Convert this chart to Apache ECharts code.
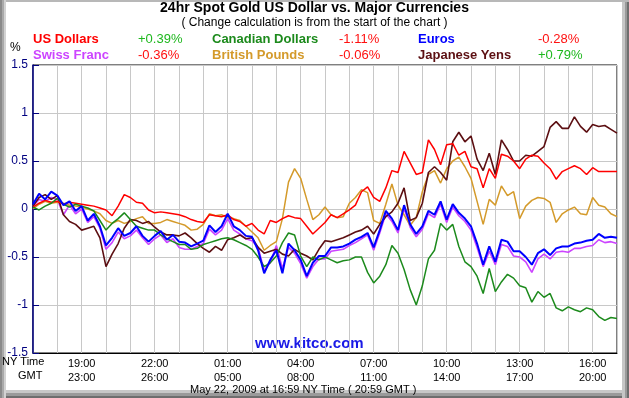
<!DOCTYPE html>
<html>
<head>
<meta charset="utf-8">
<script src="https://cdn.jsdelivr.net/npm/echarts@6/dist/echarts.min.js"></script>
<style>
  html, body { margin: 0; padding: 0; background: #fff; }
  #chart {
    width: 629px; height: 398px; background: #fff;
    box-shadow:
      inset 2px 0 0 #8a8a8a, inset 4px 0 0 #a9a9a9, inset 6px 0 0 #d2d2d2,
      inset 0 2px 0 #b8b8b8,
      inset -2px 0 0 #6e6e6e, inset -4px 0 0 #9a9a9a, inset -7px 0 0 #c6c6c6,
      inset 0 -2px 0 #6e6e6e, inset 0 -5px 0 #9a9a9a, inset 0 -8px 0 #c8c8c8;
  }
</style>
</head>
<body>
<div id="chart"></div>
<script>
// hours since start of chart (16:59 NY), one value every 15 minutes
const seriesNames = ['US Dollars', 'Canadian Dollars', 'Euros', 'Swiss Franc', 'British Pounds', 'Japanese Yens'];
const changes = ['+0.39%', '-1.11%', '-0.28%', '-0.36%', '-0.06%', '+0.79%'];
const nyTicks = ['19:00', '22:00', '01:00', '04:00', '07:00', '10:00', '13:00', '16:00'];
const gmtTicks = ['23:00', '26:00', '05:00', '08:00', '11:00', '14:00', '17:00', '20:00'];

const usd = [
  0.02, 0.06, 0.09, 0.07, 0.08, 0.05, 0.07, 0.06, 0.05, 0.04, 0.03, 0.01,
  -0.01, -0.07, 0.03, 0.15, 0.12, 0.07, 0.06, -0.01, -0.04, -0.03, -0.04, -0.05,
  -0.06, -0.08, -0.11, -0.13, -0.14, -0.06, -0.07, -0.08, -0.06, -0.11, -0.13, -0.18,
  -0.15, -0.22, -0.26, -0.12, -0.14, -0.10, -0.07, -0.09, -0.10, -0.18, -0.26, -0.20,
  -0.14, -0.06, -0.09, -0.05, -0.01, 0.04, 0.18, 0.23, 0.12, 0.08, 0.22, 0.40,
  0.38, 0.60, 0.48, 0.36, 0.38, 0.72, 0.62, 0.46, 0.67, 0.68, 0.56, 0.60,
  0.44, 0.42, 0.22, 0.42, 0.32, 0.57, 0.55, 0.50, 0.42, 0.52, 0.56, 0.55,
  0.48, 0.42, 0.31, 0.39, 0.42, 0.45, 0.42, 0.36, 0.43, 0.39, 0.39, 0.39, 0.39
];
const cad = [
  0.02, -0.01, 0.03, 0.06, 0.11, 0.05, 0.02, 0.05, 0.03, 0.01, -0.02, -0.12,
  -0.22, -0.15, -0.10, -0.04, -0.11, -0.18, -0.20, -0.22, -0.22, -0.27, -0.31, -0.34,
  -0.37, -0.37, -0.42, -0.41, -0.37, -0.35, -0.33, -0.31, -0.30, -0.32, -0.35, -0.38,
  -0.42, -0.50, -0.60, -0.56, -0.49, -0.35, -0.25, -0.27, -0.49, -0.60, -0.50, -0.53,
  -0.50, -0.53, -0.56, -0.54, -0.53, -0.50, -0.50, -0.66, -0.77, -0.70, -0.58, -0.38,
  -0.46, -0.63, -0.84, -1.00, -0.80, -0.52, -0.43, -0.15, -0.22, -0.16, -0.39, -0.55,
  -0.60, -0.70, -0.88, -0.62, -0.86, -0.76, -0.68, -0.72, -0.80, -0.82, -0.97, -0.86,
  -0.92, -0.88, -1.03, -1.06, -1.02, -1.05, -1.07, -1.03, -1.05, -1.12, -1.16, -1.13, -1.14
];
const eur = [
  0.05, 0.16, 0.10, 0.18, 0.14, 0.04, 0.08, -0.02, 0.03, -0.12, -0.05, -0.18,
  -0.38, -0.30, -0.20, -0.28, -0.25, -0.18, -0.28, -0.34, -0.28, -0.23, -0.32, -0.27,
  -0.34, -0.35, -0.39, -0.36, -0.33, -0.17, -0.24, -0.18, -0.05, -0.18, -0.22, -0.28,
  -0.29, -0.43, -0.67, -0.53, -0.43, -0.67, -0.36, -0.43, -0.53, -0.70, -0.56, -0.49,
  -0.49, -0.40, -0.40, -0.39, -0.36, -0.32, -0.29, -0.25, -0.40, -0.22, -0.02, -0.10,
  -0.22, 0.04, -0.16, -0.26, -0.18, -0.02, -0.06, 0.08, -0.11, 0.05, -0.04, -0.10,
  -0.18, -0.36, -0.58, -0.39, -0.55, -0.32, -0.34, -0.44, -0.44, -0.50, -0.58, -0.46,
  -0.42, -0.48, -0.41, -0.39, -0.39, -0.36, -0.35, -0.33, -0.32, -0.26, -0.30, -0.29, -0.30
];
const chf = [
  0.03, 0.10, 0.08, 0.12, 0.10, -0.06, 0.04, -0.05, 0.00, -0.14, -0.08, -0.20,
  -0.42, -0.35, -0.24, -0.31, -0.28, -0.22, -0.30, -0.37, -0.31, -0.27, -0.35, -0.31,
  -0.40, -0.42, -0.42, -0.39, -0.36, -0.21, -0.27, -0.22, -0.10, -0.22, -0.26, -0.31,
  -0.33, -0.40, -0.64, -0.56, -0.38, -0.62, -0.40, -0.46, -0.57, -0.72, -0.60, -0.52,
  -0.52, -0.44, -0.43, -0.42, -0.38, -0.35, -0.31, -0.27, -0.43, -0.25, -0.05, -0.13,
  -0.25, 0.01, -0.19, -0.29, -0.21, -0.05, -0.09, 0.05, -0.14, 0.02, -0.07, -0.13,
  -0.22, -0.40, -0.60, -0.44, -0.58, -0.37, -0.39, -0.49, -0.50, -0.55, -0.66, -0.52,
  -0.47, -0.52, -0.45, -0.44, -0.45, -0.41, -0.41, -0.39, -0.38, -0.32, -0.35, -0.34, -0.36
];
const gbp = [
  0.00, 0.05, 0.08, 0.06, 0.07, 0.06, 0.04, 0.03, 0.02, 0.00, -0.02, -0.05,
  -0.12, -0.15, -0.12, -0.15, -0.13, -0.10, -0.08, -0.15, -0.15, -0.14, -0.11, -0.13,
  -0.15, -0.17, -0.22, -0.21, -0.16, -0.05, -0.07, -0.06, -0.09, -0.10, -0.12, -0.18,
  -0.24, -0.30, -0.43, -0.38, -0.34, -0.10, 0.28, 0.42, 0.32, 0.10, -0.11, -0.06,
  0.02, -0.06, -0.09, -0.08, 0.06, 0.12, 0.20, 0.17, -0.12, -0.15, 0.05, 0.26,
  0.04, -0.06, -0.17, -0.09, 0.18, 0.36, 0.40, 0.27, 0.42, 0.50, 0.54, 0.44,
  0.32, 0.08, -0.16, 0.10, 0.04, 0.24, 0.14, 0.18, -0.10, 0.03, 0.09, 0.12,
  0.11, 0.07, -0.14, -0.05, -0.01, 0.02, -0.05, -0.06, 0.12, 0.04, 0.02, -0.05, -0.08
];
const jpy = [
  0.03, 0.12, 0.15, 0.10, 0.14, -0.06, -0.13, -0.16, -0.22, -0.20, -0.18, -0.30,
  -0.60, -0.47, -0.36, -0.20, -0.11, -0.12, -0.15, -0.13, -0.19, -0.24, -0.27, -0.27,
  -0.28, -0.25, -0.30, -0.36, -0.41, -0.45, -0.39, -0.43, -0.32, -0.30, -0.27, -0.31,
  -0.30, -0.40, -0.46, -0.44, -0.42, -0.47, -0.49, -0.42, -0.46, -0.49, -0.53, -0.42,
  -0.33, -0.34, -0.32, -0.30, -0.27, -0.24, -0.22, -0.18, -0.26, -0.16, -0.08, -0.03,
  0.06, 0.22, -0.12, -0.09, 0.06, 0.38, 0.44, 0.38, 0.30, 0.70, 0.80, 0.70,
  0.76, 0.52, 0.40, 0.58, 0.36, 0.72, 0.62, 0.50, 0.50, 0.56, 0.55, 0.60,
  0.65, 0.85, 0.91, 0.84, 0.84, 0.96, 0.86, 0.80, 0.88, 0.86, 0.87, 0.83, 0.79
];

const colors = ['#ff0000', '#1c8a1c', '#0000ff', '#cc44ff', '#d49a2a', '#5c0f12'];
const widths = [1.5, 1.5, 2, 1.6, 1.5, 1.6];
const values = [usd, cad, eur, chf, gbp, jpy];
const drawOrder = [3, 4, 5, 0, 1, 2];
const FONT = 'Arial, "Liberation Sans", sans-serif';

const chart = echarts.init(document.getElementById('chart'), null, { renderer: 'canvas' });

const legendText = [];
seriesNames.forEach((name, i) => {
  const col = i % 3, row = Math.floor(i / 3);
  legendText.push({
    type: 'text', left: [33, 212, 418][col], top: [33, 49][row],
    style: { text: name, fill: colors[i], font: 'bold 13px ' + FONT }
  });
  legendText.push({
    type: 'text', left: [138, 339, 538][col], top: [33, 49][row],
    style: { text: changes[i], fill: changes[i][0] === '+' ? '#1fb81f' : '#ff1010', font: '13px ' + FONT }
  });
});

chart.setOption({
  animation: false,
  backgroundColor: 'transparent',
  grid: { left: 33, top: 65, right: 12, bottom: 45, show: true, borderColor: '#000', borderWidth: 1 },
  xAxis: {
    type: 'value', min: 0, max: 24, interval: 1,
    axisLine: { onZero: false, lineStyle: { color: '#000', width: 1 } },
    axisTick: { show: false },
    splitLine: { lineStyle: { color: '#c8c8c8', width: 1 } },
    axisLabel: {
      margin: 4, fontSize: 11, lineHeight: 14, color: '#000', fontFamily: FONT,
      formatter: v => {
        const k = (v - 2) / 3;
        return Number.isInteger(k) && k >= 0 && k < nyTicks.length ? nyTicks[k] + '\n' + gmtTicks[k] : '';
      }
    }
  },
  yAxis: {
    type: 'value', min: -1.5, max: 1.5, interval: 0.5,
    axisLine: { show: true, onZero: false, lineStyle: { color: '#000080', width: 1.5 } },
    axisTick: { show: true, inside: true, length: 6, lineStyle: { color: '#000080' } },
    splitLine: { lineStyle: { color: '#c8c8c8', width: 1 } },
    axisLabel: { margin: 5, fontSize: 12, color: '#000080', fontFamily: FONT }
  },
  graphic: [
    { type: 'text', left: 'center', top: 1, style: { text: '24hr Spot Gold US Dollar vs. Major Currencies', fill: '#000', font: 'bold 14px ' + FONT } },
    { type: 'text', left: 'center', top: 17, style: { text: '( Change calculation is from the start of the chart )', fill: '#000', font: '12px ' + FONT } },
    { type: 'text', left: 10, top: 42, style: { text: '%', fill: '#000', font: '12px ' + FONT } },
    { type: 'text', left: 2, top: 356, style: { text: 'NY Time', fill: '#000', font: '11px ' + FONT } },
    { type: 'text', left: 18, top: 370, style: { text: 'GMT', fill: '#000', font: '11px ' + FONT } },
    { type: 'text', left: 190, top: 384, style: { text: 'May 22, 2009 at 16:59 NY Time ( 20:59 GMT )', fill: '#000', font: '11px ' + FONT } },
    { type: 'text', left: 255, top: 336, z: -1, style: { text: 'www.kitco.com', fill: '#1a1ae6', font: 'bold 15px ' + FONT } }
  ].concat(legendText),
  series: drawOrder.map(i => ({
    name: seriesNames[i],
    type: 'line',
    showSymbol: false,
    silent: true,
    data: values[i].map((v, k) => [k / 4, v]),
    lineStyle: { color: colors[i], width: widths[i] },
    itemStyle: { color: colors[i] }
  }))
});
</script>
</body>
</html>
